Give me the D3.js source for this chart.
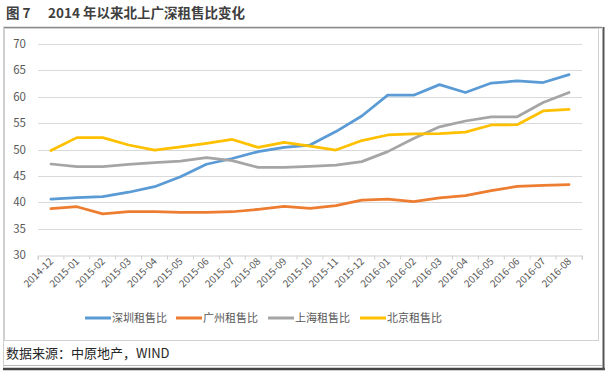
<!DOCTYPE html>
<html><head><meta charset="utf-8">
<script src="https://cdn.jsdelivr.net/npm/d3@7"></script>
<style>
html,body{margin:0;padding:0;background:#fff;}
svg{display:block;font-family:"Noto Sans CJK SC","Noto Sans",sans-serif;}
</style></head>
<body>
<svg id="chart" width="607" height="374"></svg>
<script>
const categories = ["2014-12","2015-01","2015-02","2015-03","2015-04","2015-05","2015-06","2015-07","2015-08","2015-09","2015-10","2015-11","2015-12","2016-01","2016-02","2016-03","2016-04","2016-05","2016-06","2016-07","2016-08"];
const shenzhen = [40.6,40.9,41.05,41.9,42.95,44.85,47.2,48.3,49.6,50.4,50.85,53.4,56.35,60.3,60.3,62.3,60.8,62.6,63.0,62.7,64.2];
const guangzhou = [38.8,39.15,37.8,38.2,38.2,38.1,38.1,38.2,38.65,39.2,38.85,39.35,40.4,40.6,40.1,40.85,41.25,42.2,43.0,43.2,43.35];
const shanghai = [47.25,46.75,46.75,47.2,47.5,47.8,48.45,47.9,46.6,46.6,46.8,47.05,47.7,49.6,52.1,54.3,55.4,56.2,56.2,58.9,60.8];
const beijing = [49.8,52.25,52.25,50.85,49.9,50.5,51.15,51.9,50.4,51.35,50.65,49.9,51.7,52.75,52.95,53.0,53.3,54.65,54.7,57.3,57.6];
const seriesNames = ["深圳租售比","广州租售比","上海租售比","北京租售比"];
const seriesColors = ["#5B9BD5","#ED7D31","#A5A5A5","#FFC000"];
const yTicks = [30,35,40,45,50,55,60,65,70];
const titleLabel = "图 7";
const titleText = "2014 年以来北上广深租售比变化";
const sourceText = "数据来源：中原地产，WIND";

const svg = d3.select("#chart");
const series = [shenzhen, guangzhou, shanghai, beijing];

// frame
svg.append("line").attr("x1",3).attr("x2",602).attr("y1",27.5).attr("y2",27.5).attr("stroke","#8a8a8a").attr("stroke-width",1.5);
svg.append("rect").attr("x",4.5).attr("y",28.5).attr("width",594).attr("height",312).attr("fill","none").attr("stroke","#d0d0d0").attr("stroke-width",1);
svg.append("line").attr("x1",3).attr("x2",602).attr("y1",365.5).attr("y2",365.5).attr("stroke","#bbbbbb").attr("stroke-width",1);
svg.append("line").attr("x1",3).attr("x2",605).attr("y1",369).attr("y2",369).attr("stroke","#444").attr("stroke-width",2.5);
svg.append("line").attr("x1",603.5).attr("x2",603.5).attr("y1",27).attr("y2",370).attr("stroke","#555").attr("stroke-width",2);
svg.append("line").attr("x1",3.5).attr("x2",3.5).attr("y1",27).attr("y2",368).attr("stroke","#cfcfcf").attr("stroke-width",1);

// title
svg.append("text").attr("x",6).attr("y",18).attr("font-size",13.5).attr("font-weight","bold").attr("fill","#404040").text(titleLabel);
svg.append("text").attr("x",48).attr("y",18).attr("font-size",13.5).attr("font-weight","bold").attr("fill","#404040").text(titleText);

// source
svg.append("text").attr("x",6).attr("y",358).attr("font-size",13).attr("fill","#262626").text(sourceText);

const x = d3.scaleBand().domain(categories).range([38,582]);
const y = d3.scaleLinear().domain([30,70]).range([255,44]);

// gridlines
svg.append("g").selectAll("line").data(yTicks.filter(d=>d>30)).join("line")
  .attr("x1",38).attr("x2",582).attr("y1",d=>Math.round(y(d))+0.5).attr("y2",d=>Math.round(y(d))+0.5)
  .attr("stroke","#d9d9d9").attr("stroke-width",1);

// y labels
svg.append("g").selectAll("text").data(yTicks).join("text")
  .attr("x",26).attr("y",d=>y(d)+4).attr("text-anchor","end")
  .attr("font-size",11.5).attr("fill","#595959").text(d=>d);

// x axis
const xAxis = d3.axisBottom(x).tickSize(4).tickSizeOuter(4).tickFormat("");
const gx = svg.append("g").attr("transform",`translate(0,${Math.round(y(30))+0.5})`).call(xAxis);
gx.select(".domain").attr("stroke","#d0d0d0");
gx.selectAll(".tick line").attr("stroke","#d0d0d0").attr("transform",d=>`translate(${-x.bandwidth()/2},0)`);
gx.append("line").attr("x1",582).attr("x2",582).attr("y1",0).attr("y2",4).attr("stroke","#d0d0d0");
gx.selectAll(".tick text").remove();

svg.append("g").selectAll("text").data(categories).join("text")
  .attr("transform",d=>`translate(${x(d)+x.bandwidth()/2+3},${262}) rotate(-45)`)
  .attr("text-anchor","end").attr("font-size",10).attr("fill","#595959").text(d=>d);

// lines
const line = d3.line().x((d,i)=>x(categories[i])+x.bandwidth()/2).y(d=>y(d));
series.forEach((s,k)=>{
  svg.append("path").datum(s).attr("d",line).attr("fill","none")
    .attr("stroke",seriesColors[k]).attr("stroke-width",2.75).attr("stroke-linejoin","round").attr("stroke-linecap","round");
});

// legend
const legX = [85,176,268,360];
const lg = svg.append("g");
seriesNames.forEach((n,k)=>{
  lg.append("line").attr("x1",legX[k]).attr("x2",legX[k]+26).attr("y1",318).attr("y2",318)
    .attr("stroke",seriesColors[k]).attr("stroke-width",3);
  lg.append("text").attr("x",legX[k]+27).attr("y",322).attr("font-size",11).attr("fill","#595959").text(n);
});
</script>
</body></html>
